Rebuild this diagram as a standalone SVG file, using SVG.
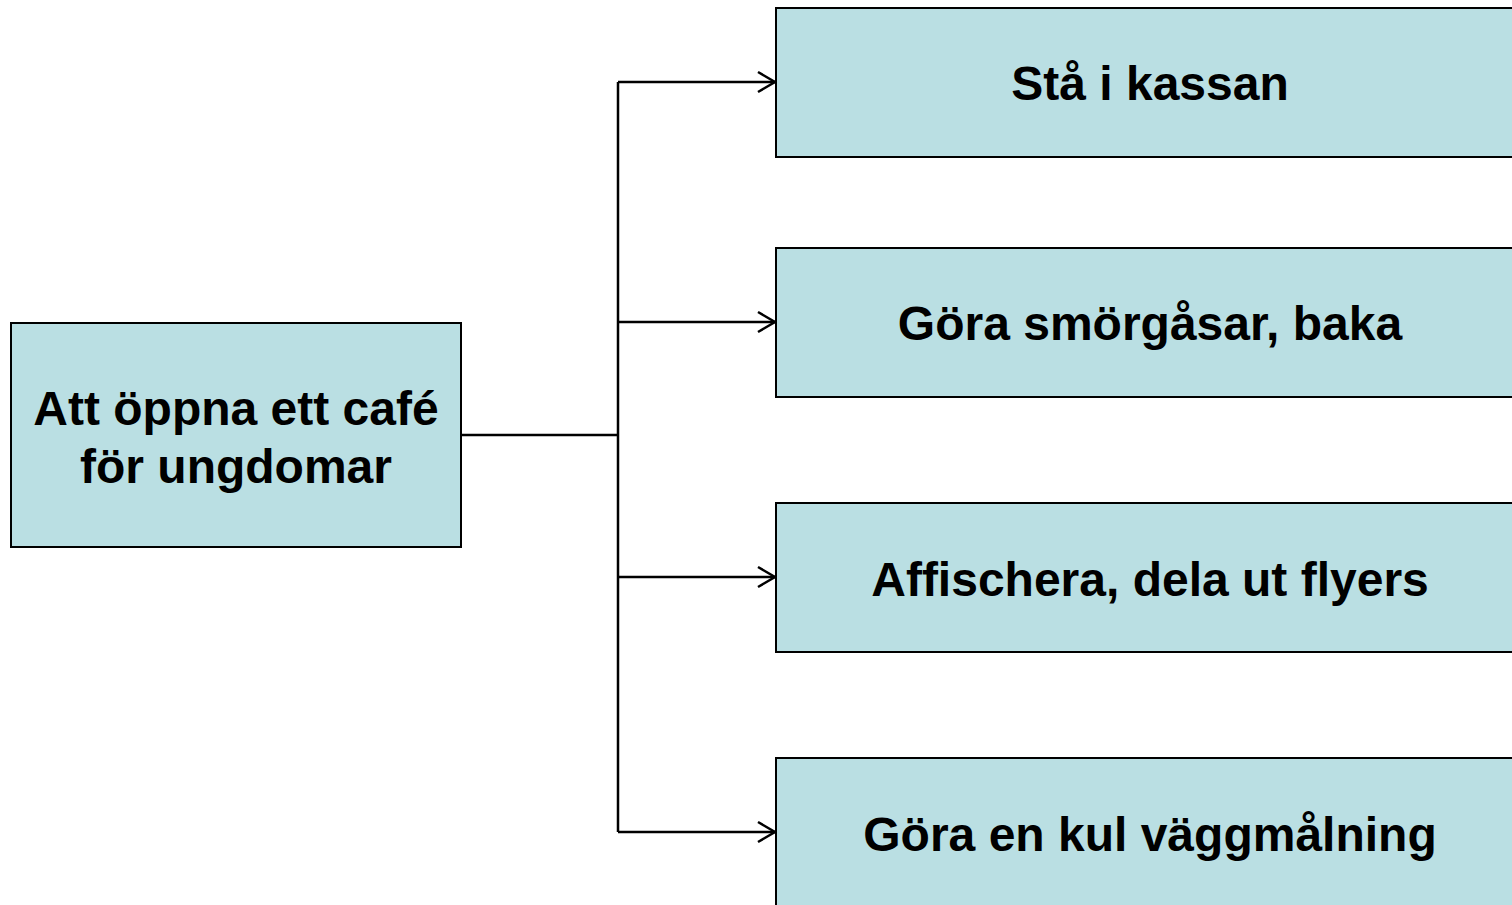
<svg xmlns="http://www.w3.org/2000/svg" width="1512" height="905" viewBox="0 0 1512 905">
<defs>
<style>
.box{fill:#BADFE3;stroke:#000;stroke-width:2}
.t{font-family:"Liberation Sans",Arial,sans-serif;font-weight:bold;font-size:48px;fill:#000;text-anchor:middle}
.c{fill:none;stroke:#000;stroke-width:2.5}
</style>
<marker id="arr" markerWidth="20" markerHeight="24" refX="18" refY="12" orient="auto" markerUnits="userSpaceOnUse">
<path d="M1,2 L18,12 L1,22" fill="none" stroke="#000" stroke-width="2.5"/>
</marker>
</defs>
<rect width="1512" height="905" fill="#fff"/>
<g id="connectors">
<path class="c" d="M461,435 H618"/>
<path class="c" d="M618,82 V832"/>
<path class="c" d="M618,82 H775" marker-end="url(#arr)"/>
<path class="c" d="M618,322 H775" marker-end="url(#arr)"/>
<path class="c" d="M618,577 H775" marker-end="url(#arr)"/>
<path class="c" d="M618,832 H775" marker-end="url(#arr)"/>
</g>
<g id="root">
<rect class="box" x="11" y="323" width="450" height="224"/>
<text class="t" x="236" y="425">Att öppna ett café</text>
<text class="t" x="236" y="483">för ungdomar</text>
</g>
<g id="n1">
<rect class="box" x="776" y="8" width="760" height="149"/>
<text class="t" x="1150" y="100">Stå i kassan</text>
</g>
<g id="n2">
<rect class="box" x="776" y="248" width="760" height="149"/>
<text class="t" x="1150" y="340">Göra smörgåsar, baka</text>
</g>
<g id="n3">
<rect class="box" x="776" y="503" width="760" height="149"/>
<text class="t" x="1150" y="596">Affischera, dela ut flyers</text>
</g>
<g id="n4">
<rect class="box" x="776" y="758" width="760" height="160"/>
<text class="t" x="1150" y="851">Göra en kul väggmålning</text>
</g>
</svg>
